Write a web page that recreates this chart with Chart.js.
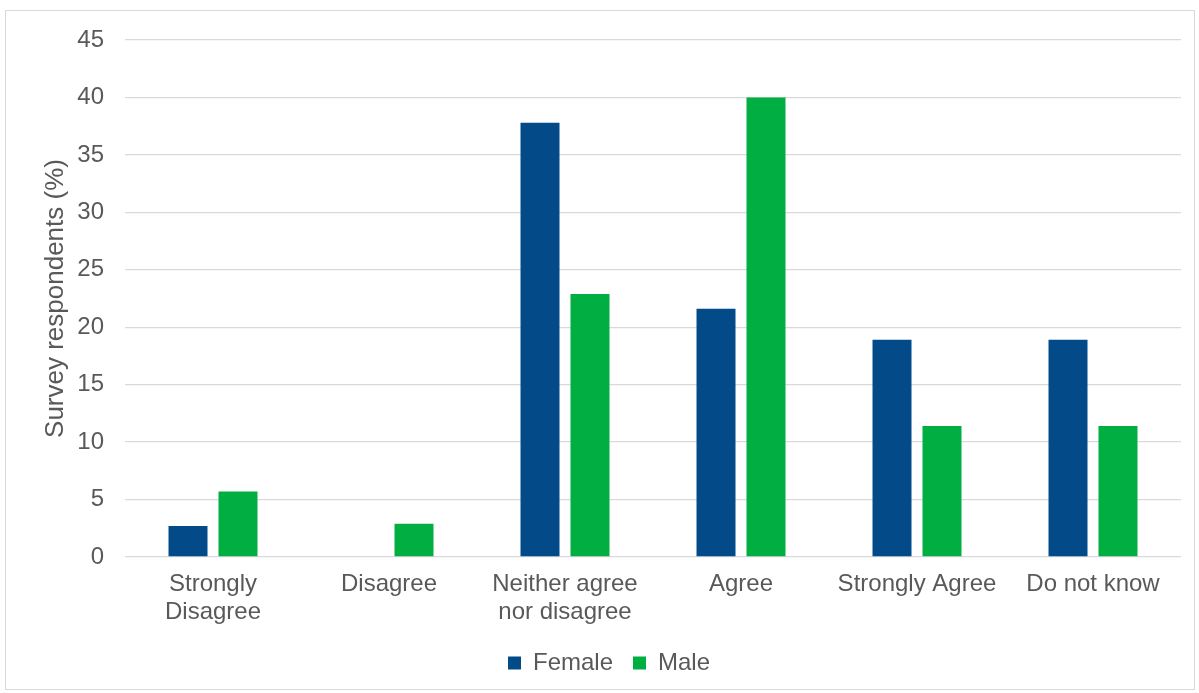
<!DOCTYPE html>
<html>
<head>
<meta charset="utf-8">
<script src="https://cdn.jsdelivr.net/npm/chart.js@4"></script>
<style>
    body { margin: 0; background: #fff; }
    #box {
        position: absolute; left: 5px; top: 10px;
        width: 1190px; height: 680px;
        border: 1px solid #d9d9d9; box-sizing: border-box;
    }
</style>
</head>
<body>
<div id="box"><canvas id="bar"></canvas></div>
<script>
var categories = [["Strongly", "Disagree"], "Disagree", ["Neither agree", "nor disagree"], "Agree", "Strongly Agree", "Do not know"];
var female = [2.7, 0, 37.8, 21.6, 18.9, 18.9];
var male = [5.7, 2.9, 22.9, 40.0, 11.4, 11.4];
var yTicks = [0, 5, 10, 15, 20, 25, 30, 35, 40, 45];

var textColor = "#595959";
var fontName = "'Liberation Sans', Arial, sans-serif";

var bar = new Chart("bar", {
    type: "bar",
    data: {
        labels: categories,
        datasets: [{
            label: "Female",
            backgroundColor: "#034a88",
            data: female
        }, {
            label: "Male",
            backgroundColor: "#00ae42",
            data: male
        }]
    },
    options: {
        responsive: true,
        maintainAspectRatio: false,
        animation: false,
        categoryPercentage: 0.568,
        barPercentage: 0.78,
        layout: { padding: { left: 31, right: 13, top: 29, bottom: 4 } },
        plugins: {
            tooltip: { enabled: false },
            legend: {
                position: "bottom",
                labels: {
                    color: textColor,
                    font: { family: fontName, size: 24 },
                    boxWidth: 13,
                    boxHeight: 13,
                    padding: 20
                }
            }
        },
        scales: {
            x: {
                grid: { display: false },
                border: { display: false },
                ticks: {
                    color: textColor,
                    font: { family: fontName, size: 24, lineHeight: 1.17 },
                    padding: 5,
                    maxRotation: 0,
                    autoSkip: false
                },
                afterFit: function (scale) {
                    scale.height = 74;
                    scale.paddingLeft = 0;
                    scale.paddingRight = 0;
                }
            },
            y: {
                min: yTicks[0],
                max: yTicks[yTicks.length - 1],
                afterBuildTicks: function (scale) {
                    scale.ticks = yTicks.map(function (v) { return { value: v }; });
                },
                grid: { color: "#d9d9d9", lineWidth: 1.3, drawTicks: false },
                border: { display: false },
                ticks: {
                    color: textColor,
                    font: { family: fontName, size: 24 },
                    padding: 21
                },
                title: {
                    display: true,
                    text: "Survey respondents (%)",
                    color: textColor,
                    font: { family: fontName, size: 26 },
                    padding: { top: 3, bottom: 0 }
                },
                afterFit: function (scale) {
                    scale.width = 88;
                    scale.paddingTop = 0;
                    scale.paddingBottom = 0;
                }
            }
        }
    }
});
</script>
</body>
</html>
